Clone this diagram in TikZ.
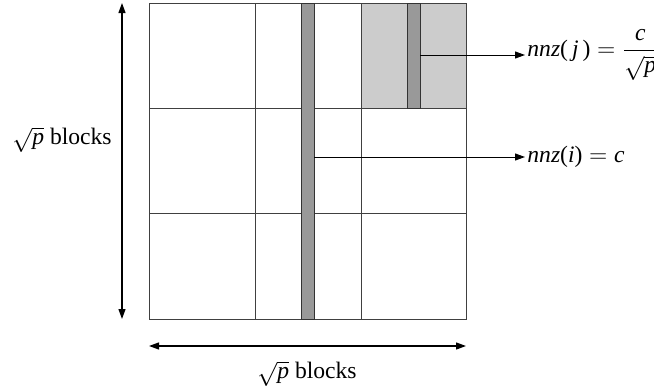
\documentclass[tikz,border=0pt]{standalone}
\usepackage{fontspec}
\setmainfont{Liberation Serif}
\usepackage{amsmath}
\usetikzlibrary{arrows.meta, positioning}
\newcommand{\ivar}[1]{\text{\itshape #1}}

\begin{document}
\begin{tikzpicture}[x=0.5pt, y=-0.5pt, every node/.style={font=\fontsize{11.8}{14}\selectfont},
  gridline/.style={draw=black!75, line width=0.5pt},
  stripe/.style={fill=black!40, draw=black!80, line width=0.5pt},
  pointer/.style={-{Triangle[length=5pt,width=3.5pt]}, line width=0.5pt},
  span/.style={{Triangle[length=5pt,width=3.5pt]}-{Triangle[length=5pt,width=3.5pt]}, line width=0.6pt}]
\useasboundingbox (0,0) rectangle (654,391);

% shaded block
\fill[black!20] (361,3) rectangle (466,108);
% grid of blocks
\draw[gridline] (149,3) rectangle (466,319);
\foreach \x in {255,361} \draw[gridline] (\x,3) -- (\x,319);
\foreach \y in {108,213} \draw[gridline] (149,\y) -- (466,\y);
% columns
\draw[stripe] (301,3) rectangle (314,319);
\draw[stripe] (407,3) rectangle (420,108);

% labels
\coordinate (colj) at (420,55);
\coordinate (coli) at (314,157);
\node (nnzj) [anchor=west, inner sep=1pt] at (525,55) {$\ivar{nnz}\text{(}\,\ivar{j}\,\text{)} = \dfrac{\ivar{c}}{\sqrt{\ivar{p}}}$};
\node (nnzi) [anchor=west, inner sep=1pt] at (525,157) {$\ivar{nnz}\text{(}\ivar{i}\text{)} = \ivar{c}$};
\draw[pointer] (colj) -- (nnzj.west);
\draw[pointer] (coli) -- (nnzi.west);

% block counts
\coordinate (ltop) at (122,3);
\coordinate (lbot) at (122,319);
\coordinate (bleft) at (149,346);
\coordinate (bright) at (466,346);
\draw[span] (ltop) -- (lbot);
\draw[span] (bleft) -- (bright);
\node (rows) at (62,140) {$\sqrt{\ivar{p}}$ blocks};
\node (cols) at (307,374) {$\sqrt{\ivar{p}}$ blocks};
\end{tikzpicture}
\end{document}
